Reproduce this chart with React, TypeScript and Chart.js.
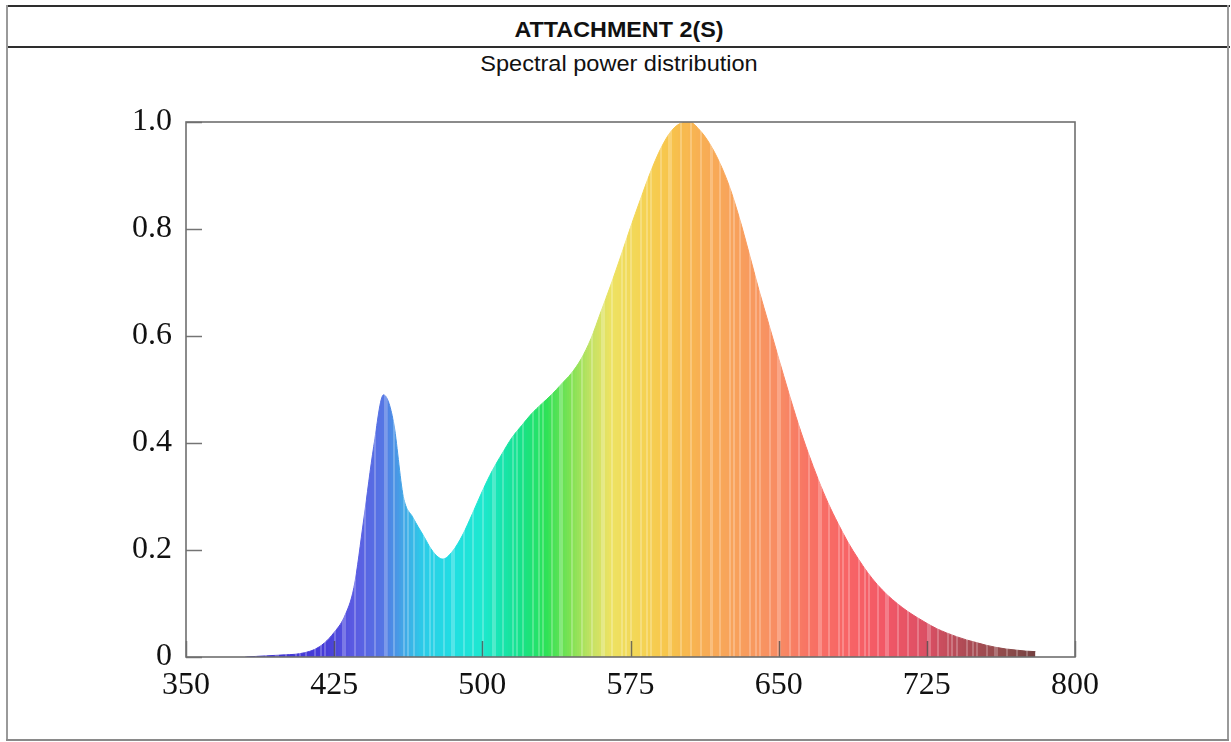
import React, { useEffect, useRef } from "react";
import { Chart, registerables } from "chart.js";

Chart.register(...registerables);

// ---- data ----
const TITLE = "ATTACHMENT 2(S)";
const SUBTITLE = "Spectral power distribution";

const WAVELENGTH_NM = [
  380, 385, 390, 395, 400, 405, 410, 415, 420, 425,
  430, 435, 440, 445, 450, 455, 460, 465, 470, 475,
  480, 485, 490, 495, 500, 505, 510, 515, 520, 525,
  530, 535, 540, 545, 550, 555, 560, 565, 570, 575,
  580, 585, 590, 595, 600, 605, 610, 615, 620, 625,
  630, 635, 640, 645, 650, 655, 660, 665, 670, 675,
  680, 685, 690, 695, 700, 705, 710, 715, 720, 725,
  730, 735, 740, 745, 750, 755, 760, 765, 770, 775,
  780,
];

const RELATIVE_POWER = [
  0.000, 0.001, 0.002, 0.003, 0.004, 0.005, 0.008, 0.014, 0.026, 0.046,
  0.074, 0.130, 0.258, 0.393, 0.490, 0.440, 0.300, 0.260, 0.228, 0.197,
  0.183, 0.198, 0.228, 0.268, 0.310, 0.348, 0.380, 0.410, 0.433, 0.455,
  0.473, 0.490, 0.510, 0.530, 0.557, 0.595, 0.645, 0.695, 0.748, 0.803,
  0.855, 0.905, 0.948, 0.980, 0.997, 1.000, 0.985, 0.960, 0.925, 0.880,
  0.822, 0.755, 0.686, 0.622, 0.558, 0.495, 0.435, 0.381, 0.332, 0.288,
  0.250, 0.215, 0.185, 0.158, 0.135, 0.116, 0.100, 0.086, 0.074, 0.063,
  0.053, 0.045, 0.038, 0.032, 0.027, 0.022, 0.018, 0.015, 0.013, 0.011,
  0.010,
];

const X_TICKS = [350, 425, 500, 575, 650, 725, 800];
const Y_TICKS = [0, 0.2, 0.4, 0.6, 0.8, 1.0];
const X_MIN = 350;
const X_MAX = 800;

// ---- styling: spectrum colour key (wavelength -> colour) ----
const COLOR_NM = [380, 420, 435, 450, 460, 470, 485, 500, 510, 520, 532, 545, 555, 565, 580, 595, 610, 630, 650, 665, 685, 705, 725, 745, 765, 780];
const COLOR_HEX = [
  "#3326cc", "#3a2fd6", "#5050e0", "#4a6ee2", "#36a0e4", "#1ec8e6", "#12dce0", "#10e6cc",
  "#08e2a8", "#08e080", "#20e04c", "#78e048", "#c0e05a", "#ece058", "#f3d24a", "#f7c040",
  "#f8aa48", "#f89a52", "#f8845a", "#f86a5a", "#f85a5c", "#f04c5c", "#d8445a", "#a8404a",
  "#884040", "#6a3434",
];

function hexToRgb(h: string): number[] {
  const n = parseInt(h.slice(1), 16);
  return [(n >> 16) & 255, (n >> 8) & 255, n & 255];
}

function colorAt(nm: number): number[] {
  if (nm <= COLOR_NM[0]) return hexToRgb(COLOR_HEX[0]);
  for (let i = 1; i < COLOR_NM.length; i++) {
    if (nm <= COLOR_NM[i]) {
      const t = (nm - COLOR_NM[i - 1]) / (COLOR_NM[i] - COLOR_NM[i - 1]);
      const a = hexToRgb(COLOR_HEX[i - 1]);
      const b = hexToRgb(COLOR_HEX[i]);
      return [0, 1, 2].map((k) => Math.round(a[k] + (b[k] - a[k]) * t));
    }
  }
  return hexToRgb(COLOR_HEX[COLOR_HEX.length - 1]);
}

function spectrumGradient(chart: any) {
  const { ctx, chartArea, scales } = chart;
  if (!chartArea) return "#f8b040";
  const xs = scales.x;
  const p0 = xs.getPixelForValue(X_MIN);
  const p1 = xs.getPixelForValue(X_MAX);
  const g = ctx.createLinearGradient(p0, 0, p1, 0);
  const span = X_MAX - X_MIN;
  for (let nm = 376; nm < 784; nm += 1) {
    const c = colorAt(nm + 0.5);
    // light vertical stripes like the reference rendering
    const light = (nm * 7) % 5 === 0 || (nm * 13) % 11 === 0;
    const mix = light ? 0.28 : 0.06;
    const r = Math.round(c[0] + (255 - c[0]) * mix);
    const gg = Math.round(c[1] + (255 - c[1]) * mix);
    const b = Math.round(c[2] + (255 - c[2]) * mix);
    const col = `rgb(${r},${gg},${b})`;
    const a0 = Math.min(1, Math.max(0, (nm - X_MIN) / span));
    const a1 = Math.min(1, Math.max(0, (nm + 1 - X_MIN) / span - 0.00001));
    g.addColorStop(a0, col);
    g.addColorStop(a1, col);
  }
  return g;
}

const framePlugin = {
  id: "frameAndInnerTicks",
  afterDatasetsDraw(chart: any) {
    const { ctx, chartArea, scales } = chart;
    const { left, right, top, bottom } = chartArea;
    ctx.save();
    // inner tick marks
    ctx.strokeStyle = "rgba(70,70,70,0.75)";
    ctx.lineWidth = 1.5;
    const len = 16;
    X_TICKS.forEach((v) => {
      const px = Math.round(scales.x.getPixelForValue(v)) + 0.5;
      ctx.beginPath();
      ctx.moveTo(px, bottom);
      ctx.lineTo(px, bottom - len);
      ctx.stroke();
    });
    Y_TICKS.forEach((v) => {
      const py = Math.round(scales.y.getPixelForValue(v)) + 0.5;
      ctx.beginPath();
      ctx.moveTo(left, py);
      ctx.lineTo(left + len, py);
      ctx.stroke();
    });
    // plot frame
    ctx.strokeStyle = "#6f6f6f";
    ctx.lineWidth = 1.6;
    ctx.strokeRect(left, top, right - left, bottom - top);
    ctx.restore();
  },
};

function SpectrumChart() {
  const ref = useRef<HTMLCanvasElement | null>(null);
  useEffect(() => {
    if (!ref.current) return;
    const points = WAVELENGTH_NM.map((x, i) => ({ x, y: RELATIVE_POWER[i] }));
    const chart = new Chart(ref.current, {
      type: "line",
      data: {
        datasets: [
          {
            data: points,
            fill: "origin",
            cubicInterpolationMode: "monotone",
            pointRadius: 0,
            borderWidth: 1,
            borderColor: (c: any) => spectrumGradient(c.chart),
            backgroundColor: (c: any) => spectrumGradient(c.chart),
          },
        ],
      },
      options: {
        responsive: false,
        animation: false,
        events: [],
        layout: { padding: { left: 0, right: 156, top: 122, bottom: 0 } },
        plugins: { legend: { display: false }, tooltip: { enabled: false }, title: { display: false } },
        scales: {
          x: {
            type: "linear",
            min: X_MIN,
            max: X_MAX,
            grid: { display: false, drawTicks: false },
            border: { display: false },
            afterBuildTicks: (s: any) => {
              s.ticks = X_TICKS.map((value) => ({ value }));
            },
            afterFit: (s: any) => {
              s.height = 85;
            },
            ticks: {
              autoSkip: false,
              maxRotation: 0,
              padding: 9,
              color: "#111",
              font: { family: "'Liberation Serif', 'Times New Roman', serif", size: 32 },
              callback: (v: any) => String(v),
            },
          },
          y: {
            min: 0,
            max: 1,
            grid: { display: false, drawTicks: false },
            border: { display: false },
            afterBuildTicks: (s: any) => {
              s.ticks = Y_TICKS.map((value) => ({ value }));
            },
            afterFit: (s: any) => {
              s.width = 186;
            },
            ticks: {
              padding: 14,
              color: "#111",
              font: { family: "'Liberation Serif', 'Times New Roman', serif", size: 32 },
              callback: (v: any) => (Number(v) === 0 ? "0" : Number(v).toFixed(1)),
            },
          },
        },
      } as any,
      plugins: [framePlugin],
    });
    return () => chart.destroy();
  }, []);
  return (
    <canvas
      ref={ref}
      width={1231}
      height={742}
      style={{ position: "absolute", left: 0, top: 0, width: 1231, height: 742 }}
    />
  );
}

export default function App() {
  return (
    <div
      style={{
        position: "absolute",
        left: 0,
        top: 0,
        width: 1231,
        height: 742,
        background: "#fff",
        overflow: "hidden",
      }}
    >
      {/* document frame */}
      <div style={{ position: "absolute", left: 6, top: 5, width: 1224, height: 2, background: "#2e2e2e" }} />
      <div style={{ position: "absolute", left: 6, top: 46, width: 1224, height: 2, background: "#2e2e2e" }} />
      <div style={{ position: "absolute", left: 6, top: 5, width: 2, height: 736, background: "#9a9a9a" }} />
      <div style={{ position: "absolute", left: 1227, top: 5, width: 2, height: 736, background: "#9a9a9a" }} />
      <div style={{ position: "absolute", left: 6, top: 739, width: 1223, height: 2, background: "#8a8a8a" }} />
      <div
        style={{
          position: "absolute",
          left: 0,
          width: 1238,
          top: 19,
          lineHeight: "22px",
          textAlign: "center",
          fontFamily: "'Liberation Sans', Arial, sans-serif",
          fontWeight: 700,
          fontSize: 22,
          color: "#111",
          transform: "scaleX(1.06)",
          transformOrigin: "619px 50%",
        }}
      >
        {TITLE}
      </div>
      <div
        style={{
          position: "absolute",
          left: 0,
          width: 1238,
          top: 53,
          lineHeight: "22px",
          textAlign: "center",
          fontFamily: "'Liberation Sans', Arial, sans-serif",
          fontSize: 22,
          color: "#111",
          transform: "scaleX(1.07)",
          transformOrigin: "619px 50%",
        }}
      >
        {SUBTITLE}
      </div>
      <SpectrumChart />
    </div>
  );
}
